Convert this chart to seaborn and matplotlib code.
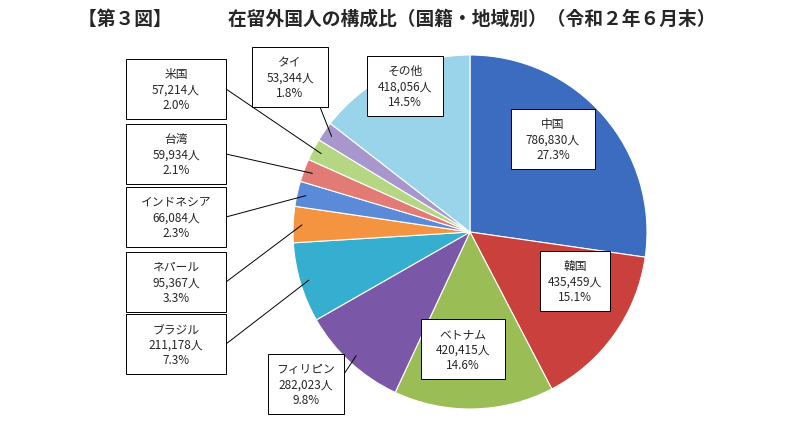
import numpy as np
import seaborn as sns
import matplotlib.pyplot as plt
from matplotlib.patches import Rectangle

plt.rcParams['font.family'] = 'Noto Sans CJK JP'
sns.set_theme(style='white', font='Noto Sans CJK JP')

names = ['中国', '韓国', 'ベトナム', 'フィリピン', 'ブラジル', 'ネパール',
         'インドネシア', '台湾', '米国', 'タイ', 'その他']
counts = ['786,830', '435,459', '420,415', '282,023', '211,178', '95,367',
          '66,084', '59,934', '57,214', '53,344', '418,056']
shares = [27.3, 15.1, 14.6, 9.8, 7.3, 3.3, 2.3, 2.1, 2.0, 1.8, 14.5]
colors = ['#3b6cc0', '#c9403c', '#9bbd55', '#7b57a8', '#35aed0', '#f59440',
          '#5b8ad8', '#e27a76', '#b5d784', '#a797cc', '#9ad4ea']

# label box centres (pixel coords, y from top) and widths
box_pos = [(553, 140), (575, 282), (463, 350), (306, 385), (176, 345), (176, 283),
           (176, 218), (176, 155), (176, 90), (290, 78), (405, 87)]
box_w = [84, 70, 84, 76, 100, 100, 100, 100, 100, 76, 76]
leader = [False, False, False, True, True, True, True, True, True, True, False]

fig = plt.figure(figsize=(7.94, 4.27), dpi=100)
ax = fig.add_axes([0, 0, 1, 1])
cx, cy, r = 470, 427 - 233, 177
wedges, _ = ax.pie(shares, colors=colors, startangle=90, counterclock=False,
                   center=(cx, cy), radius=r,
                   wedgeprops=dict(edgecolor='white', linewidth=0.8))
ax.set_xlim(0, 794)
ax.set_ylim(0, 427)
ax.set_aspect('equal')
ax.axis('off')

bh = 60
for w, n, c, s, (bx, by), bw, ld in zip(wedges, names, counts, shares, box_pos, box_w, leader):
    by = 427 - by
    if ld:
        ang = np.deg2rad((w.theta1 + w.theta2) / 2)
        px, py = cx + 0.95 * r * np.cos(ang), cy + 0.95 * r * np.sin(ang)
        if bx < 250:
            sx, sy = bx + bw / 2, by
        elif bx < 300:
            sx, sy = bx + 30, by - bh / 2
        else:
            sx, sy = bx + bw / 2, by + 10
        ax.plot([sx, px], [sy, py], color='black', lw=0.7, zorder=1)
    ax.add_patch(Rectangle((bx - bw / 2, by - bh / 2), bw, bh, fc='white',
                           ec='black', lw=0.7, zorder=3))
    ax.text(bx, by, f'{n}\n{c}人\n{s}%', ha='center', va='center', fontsize=8.5,
            linespacing=1.25, zorder=4)

fig.text(0.5, 0.955, '【第３図】　　　在留外国人の構成比（国籍・地域別）（令和２年６月末）',
         ha='center', va='center', fontsize=13.5, fontweight='bold')
fig.savefig('out.png', dpi=100)
